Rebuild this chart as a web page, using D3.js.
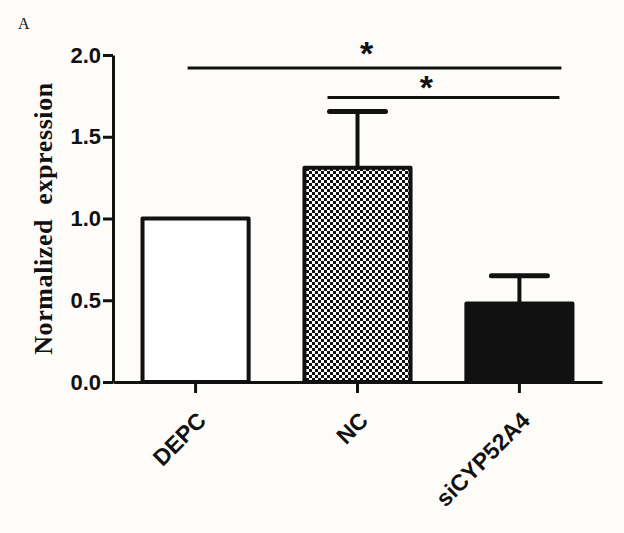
<!DOCTYPE html>
<html>
<head>
<meta charset="utf-8">
<script src="https://cdn.jsdelivr.net/npm/d3@7"></script>
<style>
  body { margin: 0; background: #fefcf9; }
  svg { display: block; }
</style>
</head>
<body>
<div id="chart"></div>
<script>
// data
var groups = ["DEPC", "NC", "siCYP52A4"];
var means = [1.0, 1.31, 0.48];
var errors = [0, 0.345, 0.17];
var yTicks = [0, 0.5, 1.0, 1.5, 2.0];
var sigFrom = ["DEPC", "NC"];
var sigTo = ["siCYP52A4", "siCYP52A4"];
var sigLevel = [1.92, 1.74];
var sigMark = ["*", "*"];

var W = 624, H = 533;
var margin = { top: 55, right: 22, bottom: 151, left: 113 };

var svg = d3.select("#chart")
    .append("svg")
    .attr("width", W)
    .attr("height", H);

svg.append("rect").attr("width", W).attr("height", H).attr("fill", "#fefcf9");

// checkered fill for NC
var defs = svg.append("defs");
var pat = defs.append("pattern")
    .attr("id", "checker")
    .attr("patternUnits", "userSpaceOnUse")
    .attr("width", 6).attr("height", 6);
pat.append("rect").attr("width", 6).attr("height", 6).attr("fill", "#fff");
pat.append("rect").attr("width", 3).attr("height", 3).attr("fill", "#111");
pat.append("rect").attr("x", 3).attr("y", 3).attr("width", 3).attr("height", 3).attr("fill", "#111");

var fills = ["#ffffff", "url(#checker)", "#111111"];

var x = d3.scaleBand()
    .domain(groups)
    .range([margin.left, W - margin.right])
    .paddingInner(0.32)
    .paddingOuter(0.17);

var y = d3.scaleLinear()
    .domain([0, 2])
    .range([H - margin.bottom, margin.top]);

// bars
svg.append("g")
    .selectAll("rect")
    .data(groups)
    .enter()
    .append("rect")
    .attr("x", d => x(d) + 2)
    .attr("y", (d, i) => y(means[i]))
    .attr("width", x.bandwidth() - 4)
    .attr("height", (d, i) => y(0) - y(means[i]))
    .attr("fill", (d, i) => fills[i])
    .attr("stroke", "#111")
    .attr("stroke-width", 4)
    .attr("stroke-linejoin", "round");

// error bars (upper only)
var eb = svg.append("g")
    .attr("stroke", "#111")
    .attr("stroke-linecap", "round");
groups.forEach((g, i) => {
    if (!errors[i]) return;
    var cx = x(g) + x.bandwidth() / 2;
    eb.append("line")
        .attr("x1", cx).attr("x2", cx)
        .attr("y1", y(means[i])).attr("y2", y(means[i] + errors[i]))
        .attr("stroke-width", 4);
    eb.append("line")
        .attr("x1", cx - 28).attr("x2", cx + 28)
        .attr("y1", y(means[i] + errors[i])).attr("y2", y(means[i] + errors[i]))
        .attr("stroke-width", 5);
});

// Y axis
var yAxis = svg.append("g")
    .attr("transform", "translate(" + margin.left + ",0)")
    .call(d3.axisLeft(y).tickValues(yTicks).tickFormat(d3.format(".1f")).tickSizeInner(10).tickSizeOuter(0));
yAxis.select(".domain").attr("stroke", "#111").attr("stroke-width", 3);
yAxis.selectAll(".tick line").attr("stroke", "#111").attr("stroke-width", 3);
yAxis.selectAll(".tick text")
    .attr("x", -12)
    .attr("fill", "#111")
    .style("font", "bold 22px 'Liberation Sans', Arial, sans-serif");

// X axis
var xAxis = svg.append("g")
    .attr("transform", "translate(0," + y(0) + ")")
    .call(d3.axisBottom(x).tickSizeInner(11).tickSizeOuter(0));
xAxis.select(".domain").attr("stroke", "#111").attr("stroke-width", 3);
xAxis.selectAll(".tick line").attr("stroke", "#111").attr("stroke-width", 3);
xAxis.selectAll(".tick text")
    .attr("y", 0)
    .attr("dy", 0)
    .attr("text-anchor", "end")
    .attr("transform", "translate(12,40) rotate(-45)")
    .attr("fill", "#111")
    .style("font", "bold 23px 'Liberation Sans', Arial, sans-serif");

// significance brackets
var sig = svg.append("g");
sigFrom.forEach((f, i) => {
    var x1 = x(f) + x.bandwidth() / 2 + (i === 0 ? -8 : -30);
    var x2 = x(sigTo[i]) + x.bandwidth() / 2 + (i === 0 ? 42 : 40);
    sig.append("line")
        .attr("x1", x1).attr("x2", x2)
        .attr("y1", y(sigLevel[i])).attr("y2", y(sigLevel[i]))
        .attr("stroke", "#111")
        .attr("stroke-width", 3);
    sig.append("text")
        .attr("x", (x1 + x2) / 2 + (i === 0 ? -8 : -17))
        .attr("y", y(sigLevel[i]) + (i === 0 ? -3 : 1))
        .attr("text-anchor", "middle")
        .attr("fill", "#111")
        .style("font", "bold 34px 'Liberation Sans', Arial, sans-serif")
        .text(sigMark[i]);
});

// y label
svg.append("text")
    .attr("transform", "translate(52," + ((y(0) + y(2)) / 2) + ") rotate(-90)")
    .attr("text-anchor", "middle")
    .attr("fill", "#111")
    .style("font", "bold 26px 'Liberation Serif', 'Times New Roman', serif")
    .style("white-space", "pre")
    .attr("letter-spacing", 0.6)
    .text("Normalized  expression");

// panel letter
svg.append("text")
    .attr("x", 18)
    .attr("y", 29)
    .attr("fill", "#111")
    .style("font", "16px 'Liberation Serif', 'Times New Roman', serif")
    .text("A");
</script>
</body>
</html>
